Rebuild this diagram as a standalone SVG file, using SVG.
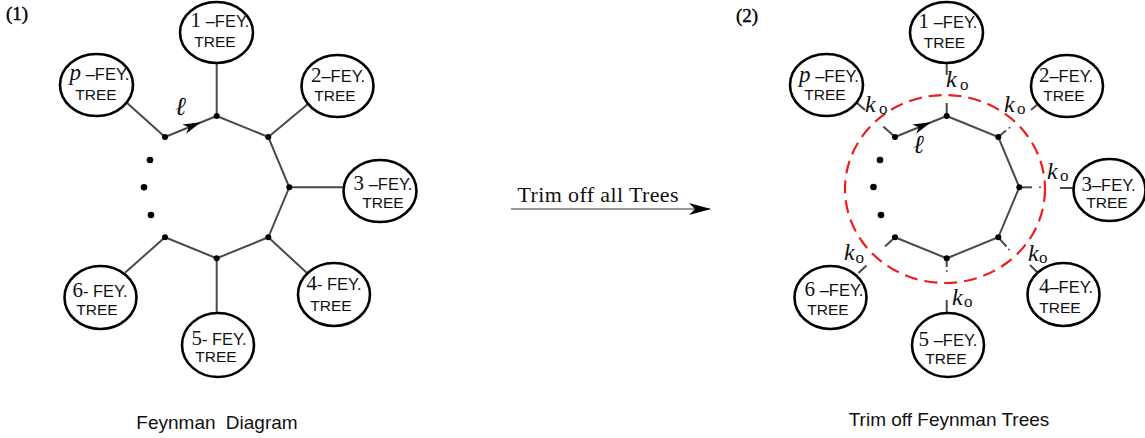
<svg xmlns="http://www.w3.org/2000/svg" width="1145" height="438" viewBox="0 0 1145 438">
<style>
.bg{fill:#fff}
.ell{fill:#fff;stroke:#000;stroke-width:2.6}
.edge{stroke:#4a4a4a;stroke-width:2;fill:none;stroke-linecap:butt}
.vx{fill:#000}
.sm{fill:#555}
.l1{font-family:"Liberation Sans",Arial,sans-serif;font-size:16.5px;fill:#111;text-anchor:middle}
.l2{font-family:"Liberation Sans",Arial,sans-serif;font-size:15.5px;fill:#111;text-anchor:middle}
.num{font-family:"Liberation Serif","DejaVu Serif",serif;font-size:21px}
.pit{font-family:"Liberation Serif","DejaVu Serif",serif;font-size:23px;font-style:italic}
.k{font-family:"Liberation Serif","DejaVu Serif",serif;font-size:24px;font-style:italic;fill:#111}
.ko{font-family:"Liberation Serif","DejaVu Serif",serif;font-size:17px;fill:#111}
.ell2{font-family:"Liberation Serif","DejaVu Serif",serif;font-size:26px;font-style:italic;fill:#111}
.cap{font-family:"Liberation Sans",Arial,sans-serif;font-size:19px;fill:#111;text-anchor:middle}
.tag{font-family:"Liberation Serif","DejaVu Serif",serif;font-size:19px;fill:#000;stroke:#000;stroke-width:0.4}
.red{fill:none;stroke:#ee1c1c;stroke-width:2.2;stroke-dasharray:13 7}
</style>
<defs>
<marker id="tri" markerUnits="userSpaceOnUse" viewBox="0 0 18 10" refX="17" refY="5" markerWidth="18" markerHeight="10" orient="auto">
<path d="M0,0 L18,5 L0,10 L5,5 Z" fill="#000"/>
</marker>
<marker id="big" markerUnits="userSpaceOnUse" viewBox="0 0 22 12" refX="21" refY="6" markerWidth="22" markerHeight="12" orient="auto">
<path d="M0,0 L22,6 L0,12 L6,6 Z" fill="#000"/>
</marker>
</defs>
<rect class="bg" x="0" y="0" width="1145" height="438"/>

<text class="tag" x="6" y="20">(1)</text>
<text class="tag" x="736" y="22">(2)</text>

<g id="connectors">
  <!-- left diagram -->
  <path class="edge" d="M165,137 L200,122.7 L216.7,116" marker-mid="url(#tri)"/>
  <path class="edge" d="M216.7,116 L268.3,137 L289.3,187.3 L268.3,237.3 L216.7,258.3 L165,237.3"/>
  <line class="edge" x1="216.7" y1="63" x2="216.7" y2="116"/>
  <line class="edge" x1="126" y1="102" x2="165" y2="137"/>
  <line class="edge" x1="308" y1="104" x2="268.3" y2="137"/>
  <line class="edge" x1="289.3" y1="187.3" x2="343" y2="187.3"/>
  <line class="edge" x1="268.3" y1="237.3" x2="306.7" y2="272.7"/>
  <line class="edge" x1="216.7" y1="258.3" x2="216.7" y2="313.5"/>
  <line class="edge" x1="165" y1="237.3" x2="125" y2="272.7"/>
  <!-- middle arrow -->
  <line x1="511" y1="209" x2="710" y2="209" stroke="#777" stroke-width="1.6" marker-end="url(#big)"/>
  <!-- right diagram -->
  <path class="edge" d="M895,137 L930,122.7 L946.7,116" marker-mid="url(#tri)"/>
  <path class="edge" d="M946.7,116 L998.3,137 L1019.3,187.3 L998.3,237.3 L946.7,258.3 L895,237.3"/>
  <line class="edge" x1="946.7" y1="63" x2="946.7" y2="75"/>
  <line class="edge" x1="946.7" y1="103" x2="946.7" y2="116"/>
  <line class="edge" x1="856" y1="102" x2="865" y2="110"/>
  <line class="edge" x1="883.3" y1="126.5" x2="895" y2="137"/>
  <line class="edge" x1="1038" y1="104" x2="1031" y2="110"/>
  <line class="edge" x1="998.3" y1="137" x2="1006" y2="130.6"/>
  <line class="edge" x1="1019.3" y1="187.3" x2="1032" y2="187.3"/>
  <line class="edge" x1="1060" y1="188" x2="1073" y2="188"/>
  <line class="edge" x1="998.3" y1="237.3" x2="1006.5" y2="246.5"/>
  <line class="edge" x1="1030" y1="265" x2="1038" y2="273"/>
  <line class="edge" x1="946.7" y1="258.3" x2="946.7" y2="267"/>
  <line class="edge" x1="946.7" y1="300" x2="946.7" y2="313.5"/>
  <line class="edge" x1="895" y1="237.3" x2="885" y2="246.5"/>
  <line class="edge" x1="858.5" y1="273" x2="866.5" y2="265.5"/>
  <circle class="sm" cx="1009.5" cy="127.8" r="1"/>
  <circle class="sm" cx="1040" cy="187.3" r="1"/>
  <circle class="sm" cx="1009" cy="249.5" r="1"/>
  <circle class="sm" cx="946.7" cy="271" r="1"/>
</g>

<g id="vertices-left">
  <circle class="vx" cx="216.7" cy="116" r="3"/>
  <circle class="vx" cx="165" cy="137" r="3"/>
  <circle class="vx" cx="268.3" cy="137" r="3"/>
  <circle class="vx" cx="289.3" cy="187.3" r="3"/>
  <circle class="vx" cx="268.3" cy="237.3" r="3"/>
  <circle class="vx" cx="216.7" cy="258.3" r="3"/>
  <circle class="vx" cx="165" cy="237.3" r="3"/>
  <circle class="vx" cx="150" cy="160" r="3.3"/>
  <circle class="vx" cx="144" cy="187.3" r="3.3"/>
  <circle class="vx" cx="151" cy="215" r="3.3"/>
  <text class="ell2" x="175" y="115">ℓ</text>
</g>

<g id="vertices-right">
  <circle class="vx" cx="946.7" cy="116" r="3"/>
  <circle class="vx" cx="895" cy="137" r="3"/>
  <circle class="vx" cx="998.3" cy="137" r="3"/>
  <circle class="vx" cx="1019.3" cy="187.3" r="3"/>
  <circle class="vx" cx="998.3" cy="237.3" r="3"/>
  <circle class="vx" cx="946.7" cy="258.3" r="3"/>
  <circle class="vx" cx="895" cy="237.3" r="3"/>
  <circle class="vx" cx="880" cy="160" r="3.3"/>
  <circle class="vx" cx="873.5" cy="187" r="3.3"/>
  <circle class="vx" cx="881" cy="215" r="3.3"/>
  <text class="ell2" x="913" y="153">ℓ</text>
</g>

<g id="trim-circle">
  <ellipse class="red" cx="945" cy="189" rx="100" ry="94"/>
</g>

<g id="k0-labels">
  <text class="k" x="946" y="87">k</text><text class="ko" x="960" y="89.5">o</text>
  <text class="k" x="865" y="111.5">k</text><text class="ko" x="879" y="113.5">o</text>
  <text class="k" x="1004" y="111.5">k</text><text class="ko" x="1017" y="113.5">o</text>
  <text class="k" x="1047" y="178.5">k</text><text class="ko" x="1060" y="180.5">o</text>
  <text class="k" x="1028" y="261">k</text><text class="ko" x="1039" y="263">o</text>
  <text class="k" x="952" y="305">k</text><text class="ko" x="964" y="307">o</text>
  <text class="k" x="844" y="260">k</text><text class="ko" x="855.5" y="262.5">o</text>
</g>

<!-- left nodes -->
<g id="L-tree-1">
  <ellipse class="ell" cx="216.5" cy="32.5" rx="36.5" ry="30.5"/>
  <text class="l1" x="220" y="27"><tspan class="num">1</tspan> –FEY.</text>
  <text class="l2" x="215" y="46.5">TREE</text>
</g>
<g id="L-tree-p">
  <ellipse class="ell" cx="96.5" cy="85" rx="36.5" ry="31"/>
  <text class="l1" x="99.5" y="80"><tspan class="pit">p</tspan> –FEY.</text>
  <text class="l2" x="96" y="100">TREE</text>
</g>
<g id="L-tree-2">
  <ellipse class="ell" cx="337.5" cy="86" rx="36" ry="31"/>
  <text class="l1" x="338" y="81.5"><tspan class="num">2</tspan>–FEY.</text>
  <text class="l2" x="335" y="100.5">TREE</text>
</g>
<g id="L-tree-3">
  <ellipse class="ell" cx="380" cy="191" rx="36.5" ry="31"/>
  <text class="l1" x="383" y="189.5"><tspan class="num">3</tspan> –FEY.</text>
  <text class="l2" x="383" y="208">TREE</text>
</g>
<g id="L-tree-4">
  <ellipse class="ell" cx="334" cy="294.5" rx="36" ry="31.5"/>
  <text class="l1" x="334" y="290"><tspan class="num">4</tspan>- FEY.</text>
  <text class="l2" x="331" y="311">TREE</text>
</g>
<g id="L-tree-5">
  <ellipse class="ell" cx="218" cy="345" rx="36" ry="32"/>
  <text class="l1" x="219" y="345"><tspan class="num">5</tspan>- FEY.</text>
  <text class="l2" x="216" y="362">TREE</text>
</g>
<g id="L-tree-6">
  <ellipse class="ell" cx="100.5" cy="297.5" rx="36" ry="31.5"/>
  <text class="l1" x="100" y="296.5"><tspan class="num">6</tspan>- FEY.</text>
  <text class="l2" x="97" y="315">TREE</text>
</g>

<!-- right nodes -->
<g id="R-tree-1">
  <ellipse class="ell" cx="946.5" cy="32.5" rx="36.5" ry="30.5"/>
  <text class="l1" x="948" y="28"><tspan class="num">1</tspan> –FEY.</text>
  <text class="l2" x="944.5" y="48">TREE</text>
</g>
<g id="R-tree-p">
  <ellipse class="ell" cx="826.5" cy="85" rx="36.5" ry="31"/>
  <text class="l1" x="829" y="81.5"><tspan class="pit">p</tspan> –FEY.</text>
  <text class="l2" x="825" y="99.5">TREE</text>
</g>
<g id="R-tree-2">
  <ellipse class="ell" cx="1067" cy="86" rx="36" ry="31"/>
  <text class="l1" x="1066" y="81.5"><tspan class="num">2</tspan>–FEY.</text>
  <text class="l2" x="1064" y="100.5">TREE</text>
</g>
<g id="R-tree-3">
  <ellipse class="ell" cx="1109.5" cy="190" rx="36" ry="31"/>
  <text class="l1" x="1108.5" y="191"><tspan class="num">3</tspan>–FEY.</text>
  <text class="l2" x="1107" y="208">TREE</text>
</g>
<g id="R-tree-4">
  <ellipse class="ell" cx="1063.5" cy="294.5" rx="36" ry="31.5"/>
  <text class="l1" x="1066" y="293"><tspan class="num">4</tspan>–FEY.</text>
  <text class="l2" x="1060" y="313">TREE</text>
</g>
<g id="R-tree-5">
  <ellipse class="ell" cx="948" cy="345" rx="36" ry="32"/>
  <text class="l1" x="948" y="345.5"><tspan class="num">5</tspan> –FEY.</text>
  <text class="l2" x="946" y="364">TREE</text>
</g>
<g id="R-tree-6">
  <ellipse class="ell" cx="830.5" cy="297.5" rx="36" ry="31.5"/>
  <text class="l1" x="834" y="296"><tspan class="num">6</tspan> –FEY.</text>
  <text class="l2" x="828" y="315">TREE</text>
</g>

<text x="598" y="202" font-family="'Liberation Serif','DejaVu Serif',serif" font-size="22" fill="#111" text-anchor="middle" textLength="161" lengthAdjust="spacing">Trim off all Trees</text>
<text class="cap" x="217" y="428.5" word-spacing="5">Feynman Diagram</text>
<text class="cap" x="949" y="426">Trim off Feynman Trees</text>
</svg>
